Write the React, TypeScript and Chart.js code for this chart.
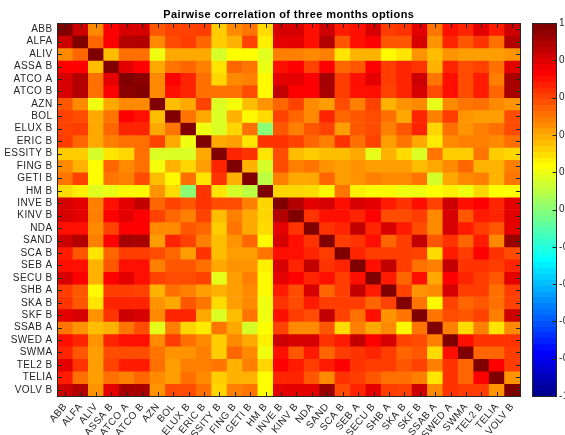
import React, { useEffect, useRef } from 'react';
import { Chart, registerables } from 'chart.js';

Chart.register(...registerables);

const stocks = ['ABB', 'ALFA', 'ALIV', 'ASSA B', 'ATCO A', 'ATCO B', 'AZN', 'BOL', 'ELUX B', 'ERIC B',
  'ESSITY B', 'FING B', 'GETI B', 'HM B', 'INVE B', 'KINV B', 'NDA', 'SAND', 'SCA B', 'SEB A',
  'SECU B', 'SHB A', 'SKA B', 'SKF B', 'SSAB A', 'SWED A', 'SWMA', 'TEL2 B', 'TELIA', 'VOLV B'];

// Lower triangle of the (symmetric) correlation matrix, row i holds columns 0..i
const corrLower: number[][] = [
  [1],
  [0.85, 1],
  [0.48, 0.55, 1],
  [0.75, 0.75, 0.38, 1],
  [0.83, 0.9, 0.53, 0.8, 1],
  [0.83, 0.9, 0.53, 0.75, 0.98, 1],
  [0.58, 0.48, 0.22, 0.42, 0.48, 0.48, 1],
  [0.62, 0.6, 0.42, 0.52, 0.75, 0.72, 0.38, 1],
  [0.62, 0.63, 0.42, 0.55, 0.68, 0.68, 0.42, 0.52, 1],
  [0.63, 0.55, 0.42, 0.5, 0.53, 0.53, 0.62, 0.42, 0.22, 1],
  [0.35, 0.35, 0.17, 0.3, 0.33, 0.53, 0.18, 0.18, 0.18, 0.42, 1],
  [0.48, 0.4, 0.25, 0.55, 0.48, 0.53, 0.23, 0.4, 0.33, 0.44, 0.68, 1],
  [0.52, 0.62, 0.25, 0.52, 0.5, 0.6, 0.38, 0.26, 0.53, 0.3, 0.65, 0.4, 1],
  [0.32, 0.28, 0.19, 0.21, 0.26, 0.26, 0.46, 0.32, 0.02, 0.65, 0.3, 0.17, 0.12, 1],
  [0.83, 0.8, 0.5, 0.72, 0.8, 0.87, 0.55, 0.62, 0.58, 0.65, 0.6, 0.6, 0.5, 0.33, 1],
  [0.83, 0.8, 0.5, 0.75, 0.8, 0.75, 0.62, 0.55, 0.5, 0.62, 0.38, 0.5, 0.42, 0.33, 0.9, 1],
  [0.72, 0.72, 0.48, 0.62, 0.75, 0.75, 0.48, 0.48, 0.58, 0.55, 0.35, 0.52, 0.42, 0.32, 0.8, 0.65, 1],
  [0.85, 0.9, 0.5, 0.75, 0.93, 0.92, 0.44, 0.68, 0.62, 0.5, 0.38, 0.46, 0.55, 0.26, 0.83, 0.72, 0.65, 1],
  [0.7, 0.58, 0.3, 0.55, 0.63, 0.63, 0.6, 0.55, 0.44, 0.65, 0.38, 0.44, 0.44, 0.52, 0.72, 0.72, 0.68, 0.63, 1],
  [0.72, 0.72, 0.4, 0.58, 0.72, 0.72, 0.5, 0.58, 0.58, 0.53, 0.42, 0.46, 0.46, 0.28, 0.83, 0.68, 0.87, 0.65, 0.68, 1],
  [0.83, 0.75, 0.4, 0.75, 0.8, 0.72, 0.62, 0.6, 0.6, 0.62, 0.2, 0.44, 0.5, 0.26, 0.8, 0.75, 0.68, 0.72, 0.63, 0.72, 1],
  [0.63, 0.58, 0.26, 0.63, 0.63, 0.62, 0.4, 0.53, 0.5, 0.44, 0.4, 0.44, 0.48, 0.26, 0.7, 0.6, 0.83, 0.55, 0.63, 0.87, 0.7, 1],
  [0.65, 0.58, 0.3, 0.68, 0.68, 0.68, 0.46, 0.42, 0.58, 0.52, 0.32, 0.44, 0.48, 0.22, 0.65, 0.6, 0.7, 0.63, 0.63, 0.63, 0.55, 0.62, 1],
  [0.8, 0.83, 0.46, 0.65, 0.85, 0.83, 0.48, 0.68, 0.68, 0.42, 0.18, 0.38, 0.52, 0.22, 0.72, 0.63, 0.6, 0.87, 0.62, 0.53, 0.72, 0.46, 0.52, 1],
  [0.52, 0.46, 0.38, 0.4, 0.52, 0.6, 0.2, 0.5, 0.33, 0.29, 0.52, 0.42, 0.17, 0.25, 0.62, 0.48, 0.48, 0.58, 0.32, 0.5, 0.42, 0.48, 0.26, 0.52, 1],
  [0.72, 0.68, 0.46, 0.68, 0.72, 0.72, 0.48, 0.63, 0.53, 0.48, 0.35, 0.48, 0.42, 0.28, 0.85, 0.83, 0.83, 0.65, 0.7, 0.87, 0.75, 0.83, 0.62, 0.6, 0.5, 1],
  [0.68, 0.58, 0.44, 0.6, 0.6, 0.6, 0.52, 0.46, 0.46, 0.5, 0.35, 0.55, 0.48, 0.22, 0.72, 0.58, 0.7, 0.55, 0.63, 0.65, 0.68, 0.63, 0.55, 0.58, 0.32, 0.72, 1],
  [0.8, 0.65, 0.44, 0.62, 0.7, 0.7, 0.53, 0.44, 0.5, 0.5, 0.52, 0.4, 0.5, 0.33, 0.75, 0.7, 0.63, 0.7, 0.75, 0.65, 0.63, 0.63, 0.58, 0.62, 0.5, 0.65, 0.55, 1],
  [0.7, 0.53, 0.44, 0.53, 0.5, 0.55, 0.48, 0.44, 0.53, 0.48, 0.35, 0.4, 0.4, 0.25, 0.68, 0.68, 0.58, 0.48, 0.65, 0.63, 0.58, 0.53, 0.53, 0.5, 0.3, 0.65, 0.55, 0.75, 1],
  [0.85, 0.9, 0.46, 0.8, 0.92, 0.92, 0.46, 0.6, 0.6, 0.53, 0.33, 0.5, 0.52, 0.25, 0.8, 0.8, 0.8, 0.95, 0.6, 0.68, 0.8, 0.63, 0.62, 0.85, 0.48, 0.65, 0.63, 0.63, 0.46, 1],
];

const colorbarTicks = [-1, -0.8, -0.6, -0.4, -0.2, 0, 0.2, 0.4, 0.6, 0.8, 1];
const titleText = 'Pairwise correlation of three months options';

const AXIS_COLOR = '#262626';
const FONT_FAMILY = '"Liberation Sans", Arial, Helvetica, sans-serif';

function corr(r: number, c: number): number {
  return r >= c ? corrLower[r][c] : corrLower[c][r];
}

function jet(v: number): string {
  const t = Math.min(1, Math.max(0, (v + 1) / 2));
  const f = (x: number) => Math.round(255 * Math.min(1, Math.max(0, 1.5 - Math.abs(x))));
  return `rgb(${f(4 * t - 3)},${f(4 * t - 2)},${f(4 * t - 1)})`;
}

const noPad = (s: any) => {
  s.paddingTop = 0;
  s.paddingBottom = 0;
  s.paddingLeft = 0;
  s.paddingRight = 0;
};

const framePlugin = {
  id: 'matlabFrame',
  beforeDraw(chart: any) {
    const ctx = chart.ctx;
    ctx.fillStyle = '#ffffff';
    ctx.fillRect(0, 0, chart.width, chart.height);
    (ctx as any).letterSpacing = '0.4px';
  },
  afterDatasetsDraw(chart: any) {
    const { ctx, chartArea: a, scales } = chart;
    const L = Math.floor(a.left) + 0.5;
    const R = Math.floor(a.right) + 0.5;
    const T = Math.floor(a.top) + 0.5;
    const B = Math.floor(a.bottom) + 0.5;
    const tl = 4.5;
    ctx.save();
    ctx.strokeStyle = AXIS_COLOR;
    ctx.lineWidth = 1;
    ctx.strokeRect(L, T, R - L, B - T);
    ctx.beginPath();
    scales.x.ticks.forEach((_: any, i: number) => {
      const px = Math.round(scales.x.getPixelForTick(i)) + 0.5;
      ctx.moveTo(px, T); ctx.lineTo(px, T + tl);
      ctx.moveTo(px, B); ctx.lineTo(px, B - tl);
    });
    scales.y.ticks.forEach((t: any) => {
      const py = Math.round(scales.y.getPixelForValue(t.value)) + 0.5;
      ctx.moveTo(L, py); ctx.lineTo(L + tl, py);
      ctx.moveTo(R, py); ctx.lineTo(R - tl, py);
    });
    ctx.stroke();

    // colour bar, drawn along the 'cb' scale
    const cb = scales.cb;
    const x0 = Math.round(cb.left + 13);
    const x1 = Math.round(cb.left + 36);
    const n = 64;
    for (let k = 0; k < n; k++) {
      const v0 = -1 + (2 * k) / n;
      const v1 = -1 + (2 * (k + 1)) / n;
      const yTop = cb.getPixelForValue(v1);
      const yBot = cb.getPixelForValue(v0);
      ctx.fillStyle = jet(v1 - 1e-6);
      ctx.fillRect(x0, Math.floor(yTop), x1 - x0, Math.ceil(yBot) - Math.floor(yTop));
    }
    ctx.strokeStyle = AXIS_COLOR;
    ctx.strokeRect(x0 - 0.5, T, x1 - x0 + 1, B - T);
    ctx.beginPath();
    cb.ticks.forEach((t: any) => {
      const py = Math.round(cb.getPixelForValue(t.value)) + 0.5;
      ctx.moveTo(x1 + 0.5 - 4, py); ctx.lineTo(x1 + 0.5, py);
    });
    ctx.stroke();
    ctx.restore();
  },
};

export default function App() {
  const ref = useRef<HTMLCanvasElement | null>(null);

  useEffect(() => {
    if (!ref.current) return;
    const font = { family: FONT_FAMILY, size: 10 };
    const datasets = stocks.map((name, r) => ({
      label: name,
      data: stocks.map(() => [r, r + 1]),
      backgroundColor: stocks.map((_, c) => jet(corr(r, c))),
      borderWidth: 0,
      grouped: false,
      barPercentage: 1,
      categoryPercentage: 1,
    }));
    const chart = new Chart(ref.current, {
      type: 'bar',
      data: { labels: stocks, datasets: datasets as any },
      plugins: [framePlugin as any],
      options: {
        responsive: false,
        animation: false,
        devicePixelRatio: 1,
        layout: { padding: 0 },
        plugins: {
          legend: { display: false },
          tooltip: { enabled: false },
          title: {
            display: true,
            text: titleText,
            fullSize: false,
            color: '#000000',
            font: { family: FONT_FAMILY, size: 11, weight: 'bold' },
            padding: { top: 8, bottom: 1.8 },
          },
        },
        scales: {
          x: {
            type: 'category',
            offset: true,
            grid: { display: false, drawTicks: false },
            border: { display: false },
            ticks: { autoSkip: false, maxRotation: 50, minRotation: 50, padding: 5, color: AXIS_COLOR, font },
            afterFit: (s: any) => { noPad(s); s.height = 39; },
          },
          y: {
            type: 'linear',
            min: 0,
            max: 30,
            reverse: true,
            grid: { display: false, drawTicks: false },
            border: { display: false },
            afterBuildTicks: (s: any) => { s.ticks = stocks.map((_, i) => ({ value: i + 0.5 })); },
            ticks: {
              autoSkip: false,
              padding: 5,
              color: AXIS_COLOR,
              font,
              callback: (v: any) => stocks[Math.floor(Number(v))],
            },
            afterFit: (s: any) => { noPad(s); s.width = 57.5; },
          },
          cb: {
            type: 'linear',
            position: 'right',
            min: -1,
            max: 1,
            grid: { display: false, drawTicks: false },
            border: { display: false },
            afterBuildTicks: (s: any) => { s.ticks = colorbarTicks.map((v) => ({ value: v })); },
            ticks: { autoSkip: false, padding: 39, color: AXIS_COLOR, font, callback: (v: any) => String(v) },
            afterFit: (s: any) => { noPad(s); s.width = 80; },
          },
        } as any,
      },
    });
    return () => chart.destroy();
  }, []);

  return (
    <div style={{ position: 'fixed', left: 0, top: 0, width: 565, height: 435, overflow: 'hidden', background: '#fff' }}>
      <canvas ref={ref} width={600} height={435} style={{ display: 'block' }} />
    </div>
  );
}
